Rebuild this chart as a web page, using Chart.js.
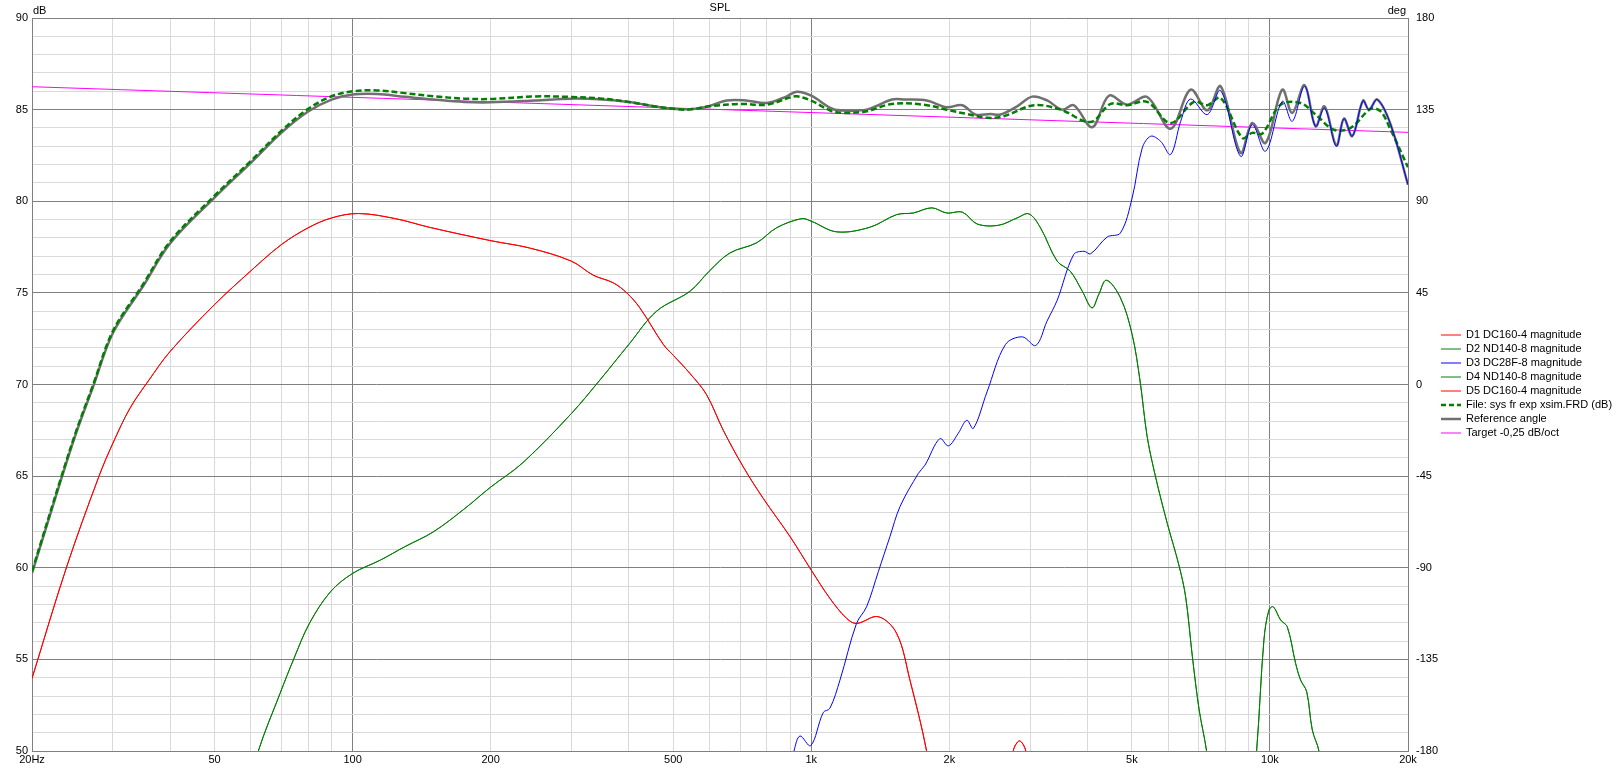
<!DOCTYPE html>
<html>
<head>
<meta charset="utf-8">
<script src="https://cdn.jsdelivr.net/npm/chart.js@4.4.0/dist/chart.umd.min.js"></script>
<style>
html, body { margin: 0; padding: 0; background: #fff; }
#wrap { width: 1621px; height: 769px; }
</style>
</head>
<body>
<div id="wrap"><canvas id="myChart"></canvas></div>
<script>
// frequency (Hz) / level (dB) pairs
let d1Points = [[20, 53.96], [23.8, 60.05], [28, 65.0], [30, 66.78], [32.7, 68.7], [36, 70.25], [40, 71.8], [50, 74.36],
    [60, 76.2], [70, 77.64], [80, 78.55], [90, 79.09], [103, 79.33], [124, 79.05], [147, 78.58], [200, 77.85], [243, 77.45],
    [300, 76.73], [335, 75.96], [370, 75.55], [396, 75.0], [423, 74.18], [476, 72.18], [500, 71.6], [544, 70.6], [591, 69.45],
    [643, 67.5], [711, 65.5], [786, 63.78], [899, 61.7], [1000, 59.87], [1098, 58.33], [1194, 57.24], [1255, 56.96],
    [1400, 57.33], [1535, 56.42], [1641, 53.87], [1784, 50], [1850, 47], [2650, 46], [2757, 50], [2844, 50.55],
    [2935, 50], [3050, 46]];

let d2Points = [[58, 47], [62.3, 50], [69.5, 53.15], [74.5, 55.05], [80.5, 56.96], [89.5, 58.69], [100, 59.69], [115, 60.42],
    [130, 61.15], [150, 61.96], [175, 63.2], [200, 64.4], [235, 65.73], [300, 68.42], [346, 70.24], [400, 72.18], [460, 74.0],
    [544, 75.09], [599, 76.18], [665, 77.18], [760, 77.73], [840, 78.55], [953, 79.05], [1000, 78.91], [1136, 78.33],
    [1342, 78.58], [1535, 79.27], [1669, 79.36], [1831, 79.64], [1972, 79.36], [2137, 79.4], [2299, 78.76], [2562, 78.69],
    [2811, 79.09], [2982, 79.31], [3161, 78.55], [3437, 76.73], [3671, 76.18], [3899, 75.09], [4093, 74.18], [4234, 74.91],
    [4400, 75.69], [4722, 74.73], [5007, 72.73], [5207, 70.24], [5400, 67.15], [5632, 64.96], [5973, 62.42], [6331, 60.15],
    [6549, 58.42], [6775, 55.15], [7010, 52.24], [7275, 50], [7600, 46], [9000, 46], [9353, 50], [9703, 56.05],
    [9950, 57.69], [10169, 57.87], [10550, 57.15], [10910, 56.78], [11377, 54.78], [11666, 53.87], [12026, 53.24],
    [12370, 51.15], [12790, 50], [13300, 47]];

let d3Points = [[880, 48], [917, 50], [945, 50.82], [997, 50.29], [1062, 52.1], [1098, 52.33], [1155, 53.87], [1255, 56.96],
    [1320, 57.87], [1400, 59.78], [1484, 61.69], [1561, 63.33], [1712, 65.15], [1770, 65.6], [1907, 67.05], [1990, 66.65],
    [2091, 67.33], [2183, 68.05], [2256, 67.6], [2417, 69.6], [2651, 72.18], [2885, 72.6], [3087, 72.13], [3265, 73.45],
    [3437, 74.6], [3734, 77.09], [3933, 77.27], [4064, 77.13], [4418, 78.05], [4722, 78.27], [5007, 80.18], [5267, 82.9],
    [5498, 83.55], [5776, 83.27], [6074, 82.55], [6389, 84.36], [6715, 85.58], [7300, 84.73], [7806, 86.04], [8630, 82.45],
    [9152, 84.18], [9785, 82.73], [10638, 85.45], [11187, 84.36], [11903, 86.27], [12575, 84.09], [13159, 85.09],
    [13955, 83.0], [14500, 84.51], [15125, 83.55], [15958, 85.49], [16442, 85.0], [17148, 85.55], [18337, 84.18],
    [20000, 80.9]];

// D4 and D5 sit exactly on top of D2 and D1
let d4Points = d2Points;
let d5Points = d1Points;

let sysPoints = [[20, 59.8], [23.2, 65], [25, 67.5], [27.2, 70], [30, 72.9], [35, 75.5], [40, 77.8], [50, 80.3], [60, 82.2],
    [70, 83.85], [80, 85.04], [90, 85.73], [100, 86.0], [113, 86.05], [130, 85.9], [150, 85.73], [175, 85.6], [200, 85.58],
    [250, 85.72], [300, 85.69], [350, 85.6], [400, 85.42], [450, 85.2], [500, 85.05], [540, 85.0], [600, 85.18],
    [700, 85.31], [800, 85.27], [900, 85.67], [930, 85.73], [1000, 85.49], [1100, 84.95], [1174, 84.82], [1320, 84.91],
    [1500, 85.31], [1756, 85.27], [2000, 84.96], [2187, 84.76], [2417, 84.55], [2629, 84.64], [3057, 85.24], [3495, 85.0],
    [4064, 84.33], [4494, 85.31], [4885, 85.24], [5401, 85.42], [6072, 84.27], [6828, 85.42], [7302, 85.24], [7807, 85.64],
    [8704, 83.45], [9152, 83.73], [9623, 83.69], [10550, 85.27], [11666, 85.36], [12575, 84.73], [13791, 83.9],
    [14997, 84.0], [16582, 85.04], [17430, 84.91], [18333, 83.9], [20000, 81.85]];

let refPoints = [[20, 59.7], [23.2, 64.9], [25, 67.4], [27.2, 69.9], [30, 72.8], [35, 75.4], [40, 77.7], [50, 80.2], [60, 82.1],
    [70, 83.75], [80, 84.9], [90, 85.55], [100, 85.82], [113, 85.85], [130, 85.7], [150, 85.55], [175, 85.42], [200, 85.4],
    [250, 85.5], [300, 85.6], [350, 85.55], [400, 85.42], [450, 85.2], [500, 85.05], [550, 85.03], [600, 85.2], [654, 85.5],
    [720, 85.5], [800, 85.36], [880, 85.7], [930, 85.98], [1000, 85.76], [1100, 85.1], [1155, 84.96], [1320, 85.0],
    [1500, 85.55], [1600, 85.55], [1785, 85.5], [1973, 85.13], [2133, 85.24], [2281, 84.73], [2459, 84.76], [2586, 84.73],
    [2811, 85.18], [3031, 85.71], [3267, 85.5], [3524, 85.0], [3737, 85.24], [4099, 84.04], [4456, 85.76], [4885, 85.27],
    [5401, 85.69], [6072, 83.96], [6714, 86.09], [7302, 84.96], [7807, 86.27], [8630, 82.64], [9152, 84.27], [9785, 83.18],
    [10639, 86.09], [11186, 84.82], [11901, 86.33], [12575, 84.09], [13157, 85.18], [13954, 83.04], [14500, 84.51],
    [15120, 83.55], [15956, 85.49], [16443, 85.0], [17140, 85.55], [18333, 84.18], [20000, 80.9]];

let targetPoints = [[20, 86.25], [20000, 83.76]];

let seriesNames = ['D1 DC160-4 magnitude', 'D2 ND140-8 magnitude', 'D3 DC28F-8 magnitude', 'D4 ND140-8 magnitude',
    'D5 DC160-4 magnitude', 'File: sys fr exp xsim.FRD (dB)', 'Reference angle', 'Target -0,25 dB/oct'];

let xGridValues = [20, 30, 40, 50, 60, 70, 80, 90, 100, 200, 300, 400, 500, 600, 700, 800, 900,
    1000, 2000, 3000, 4000, 5000, 6000, 7000, 8000, 9000, 10000, 20000];
let xLabelValues = [20, 50, 100, 200, 500, 1000, 2000, 5000, 10000, 20000];
let xLabelTexts = ['20Hz', '50', '100', '200', '500', '1k', '2k', '5k', '10k', '20k'];
let degTicks = [-180, -135, -90, -45, 0, 45, 90, 135, 180];

function toXY(points) {
    return points.map(p => ({ x: p[0], y: p[1] }));
}

let tickFont = { family: '"Liberation Sans", Arial, sans-serif', size: 11 };
let lightGrid = '#d9d9d9';
let darkGrid = '#808080';

function line(label, points, color, width, dash) {
    return {
        label: label,
        data: toXY(points),
        borderColor: color,
        borderWidth: width,
        borderDash: dash || [],
        pointRadius: 0,
        fill: false,
        tension: 0.35,
        clip: 0
    };
}

let overlayText = {
    id: 'overlayText',
    afterDraw(chart) {
        let ctx = chart.ctx;
        let area = chart.chartArea;
        ctx.save();
        ctx.font = '11px "Liberation Sans", Arial, sans-serif';
        ctx.fillStyle = '#000';
        ctx.textBaseline = 'middle';
        ctx.textAlign = 'center';
        ctx.fillText('SPL', (area.left + area.right) / 2, 8);
        ctx.textAlign = 'left';
        ctx.fillText('dB', area.left + 1, 11);
        ctx.textAlign = 'right';
        ctx.fillText('deg', area.right - 2, 11);

        // legend to the right of the plot
        chart.data.datasets.forEach((ds, i) => {
            let y = 335 + i * 14;
            ctx.beginPath();
            ctx.setLineDash(ds.borderDash.length ? [5, 3] : []);
            ctx.lineWidth = ds.borderWidth;
            ctx.strokeStyle = ds.borderColor;
            ctx.moveTo(area.right + 33, y);
            ctx.lineTo(area.right + 53, y);
            ctx.stroke();
            ctx.setLineDash([]);
            ctx.textAlign = 'left';
            ctx.fillText(ds.label, area.right + 58, y);
        });
        ctx.restore();
    }
};

let ctx = document.getElementById('myChart').getContext('2d');
let myChart = new Chart(ctx, {
    type: 'line',
    data: {
        datasets: [
            line(seriesNames[0], d1Points, '#ff0000', 1),
            line(seriesNames[1], d2Points, '#008000', 1),
            line(seriesNames[2], d3Points, '#0000ff', 1),
            line(seriesNames[3], d4Points, '#008000', 1),
            line(seriesNames[4], d5Points, '#ff0000', 1),
            line(seriesNames[5], sysPoints, '#008000', 2.5, [6, 3]),
            line(seriesNames[6], refPoints, '#707070', 2.5),
            line(seriesNames[7], targetPoints, '#ff00ff', 1)
        ]
    },
    options: {
        responsive: true,
        maintainAspectRatio: false,
        animation: false,
        layout: { padding: { top: 18, left: 0, right: 0, bottom: 0 } },
        plugins: {
            legend: { display: false },
            title: { display: false },
            tooltip: { enabled: false }
        },
        scales: {
            x: {
                type: 'logarithmic',
                position: 'bottom',
                min: 20,
                max: 20000,
                afterBuildTicks: (scale) => {
                    scale.ticks = xGridValues.map(v => ({ value: v }));
                },
                afterFit: (scale) => { scale.height = 18; },
                grid: {
                    drawTicks: false,
                    color: (c) => {
                        let v = c.tick.value;
                        return (v === 20 || v === 100 || v === 1000 || v === 10000 || v === 20000) ? darkGrid : lightGrid;
                    }
                },
                border: { color: darkGrid },
                ticks: {
                    autoSkip: false,
                    maxRotation: 0,
                    padding: 2,
                    color: '#000',
                    font: tickFont,
                    callback: (v) => {
                        let i = xLabelValues.indexOf(v);
                        return i >= 0 ? xLabelTexts[i] : '';
                    }
                }
            },
            y: {
                type: 'linear',
                position: 'left',
                min: 50,
                max: 90,
                afterFit: (scale) => { scale.width = 32; },
                grid: {
                    drawTicks: false,
                    color: (c) => (c.tick.value % 5 === 0 ? darkGrid : lightGrid)
                },
                border: { color: darkGrid },
                ticks: {
                    stepSize: 1,
                    autoSkip: false,
                    padding: 4,
                    color: '#000',
                    font: tickFont,
                    callback: (v) => (v % 5 === 0 ? v : '')
                }
            },
            y2: {
                type: 'linear',
                position: 'right',
                min: -180,
                max: 180,
                afterBuildTicks: (scale) => {
                    scale.ticks = degTicks.map(v => ({ value: v }));
                },
                afterFit: (scale) => { scale.width = 213; },
                grid: { drawOnChartArea: false, drawTicks: false },
                border: { color: darkGrid },
                ticks: {
                    autoSkip: false,
                    padding: 8,
                    color: '#000',
                    font: tickFont
                }
            }
        }
    },
    plugins: [overlayText]
});
</script>
</body>
</html>
